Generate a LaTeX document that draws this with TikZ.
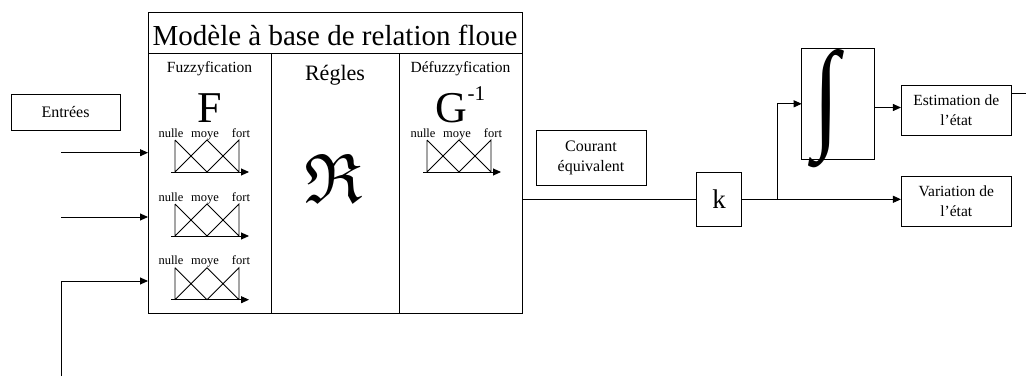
\documentclass[tikz,border=0pt]{standalone}
\usepackage{fontspec}
\usepackage{amssymb}
\usepackage{graphicx}
\setmainfont{Liberation Serif}
\usetikzlibrary{arrows.meta}
\tikzset{
  ln/.style={line width=0.9pt},
  arr/.style={ln,-{Triangle[length=8pt,width=7pt]}},
  box/.style={draw,ln,inner sep=0pt,outer sep=0pt},
  lab/.style={inner sep=0pt,font=\fontsize{12.5}{12.5}\selectfont},
  colhead/.style={inner sep=0pt,anchor=base,font=\fontsize{15.5}{15.5}\selectfont},
  txt/.style={align=center,font=\fontsize{15.5}{20}\selectfont},
  memb/.pic={
    \draw[ln] (0,0) -- (0,32) (0,0) -- (32,32) (0,32) -- (32,0) -- (64,32) (32,32) -- (64,0) -- (64,32);
    \draw[arr] (-4,32) -- (74,32);
    \node[lab,anchor=base] (-n) at (-4,-3) {nulle};
    \node[lab,anchor=base] (-m) at (30,-3) {moye};
    \node[lab,anchor=base] (-f) at (66,-3) {fort};
  }
}
\begin{document}
\begin{tikzpicture}[x=1pt,y=-1pt]
\useasboundingbox (0,0) rectangle (1026,376);
% main block
\node[box,anchor=north west,minimum width=374pt,minimum height=41pt] (title) at (148,12.5) {};
\node[box,anchor=north west,minimum width=123pt,minimum height=259.5pt] (fuzz) at (148,53.5) {};
\node[box,anchor=north west,minimum width=128pt,minimum height=259.5pt] (rules) at (271,53.5) {};
\node[box,anchor=north west,minimum width=123pt,minimum height=259.5pt] (defuzz) at (399,53.5) {};
\node[inner sep=0pt,anchor=base,font=\fontsize{29}{29}\selectfont] (titletxt) at (335,45.7) {Modèle à base de relation floue};
\node[colhead] (fuzzlab) at (209.5,72.7) {Fuzzyfication};
\node[inner sep=0pt,anchor=base,font=\fontsize{22}{22}\selectfont] (ruleslab) at (335,80) {Régles};
\node[colhead] (defuzzlab) at (460.5,72.7) {Défuzzyfication};
\node[inner sep=0pt,anchor=base,font=\fontsize{44}{44}\selectfont] (F) at (209.5,122.5) {F};
\node[inner sep=0pt,anchor=base] (G) at (460.5,122.5) {{\fontsize{44}{44}\selectfont G}{\fontsize{21}{21}\selectfont\raisebox{21.6pt}{-1}}};
\node[inner sep=0pt] (R) at (333,178) {\scalebox{7}{$\mathfrak{R}$}};
% membership functions
\pic (m1) at (175,140) {memb};
\pic (m2) at (175,204) {memb};
\pic (m3) at (175,267.7) {memb};
\pic (m4) at (427,140) {memb};
% inputs
\node[box,minimum width=109pt,minimum height=36.5pt,font=\fontsize{16}{16}\selectfont] (entrees) at (65.5,112.3) {Entrées};
\coordinate (i1) at (61,152.7);
\coordinate (i2) at (61,217);
\coordinate (i3) at (61,281);
\coordinate (i3b) at (61,376);
\draw[arr] (i1) -- (fuzz.west |- i1);
\draw[arr] (i2) -- (fuzz.west |- i2);
\draw[arr] (i3b) -- (i3) -- (fuzz.west |- i3);
% right part
\node[box,txt,minimum width=110pt,minimum height=55pt,font=\fontsize{16}{20}\selectfont] (courant) at (591,158.2) {Courant\\équivalent};
\node[box,minimum width=45.7pt,minimum height=54.7pt,font=\fontsize{27}{27}\selectfont] (k) at (719,199.3) {k};
\node[box,minimum width=72.6pt,minimum height=111pt] (int) at (838,103.8) {};
\node[inner sep=0pt] (intsym) at (826,109) {\resizebox{26pt}{86pt}{∫}};
\node[box,txt,minimum width=110.7pt,minimum height=50pt] (est) at (956.3,110) {Estimation de\\l’état};
\node[box,txt,minimum width=110.7pt,minimum height=49.3pt] (var) at (956.3,201.3) {Variation de\\l’état};
\coordinate (J) at (777.7,199.3);
\coordinate (outR) at (1026,93.3);
\draw[ln] (defuzz.east |- k.west) -- (k.west);
\draw[arr] (k.east) -- (var.west |- k.east);
\draw[arr] (J) |- (int.west);
\draw[arr] (int.east |- 0,107.5) -- (est.west |- 0,107.5);
\draw[ln] (est.east |- outR) -- (outR);
\end{tikzpicture}
\end{document}
